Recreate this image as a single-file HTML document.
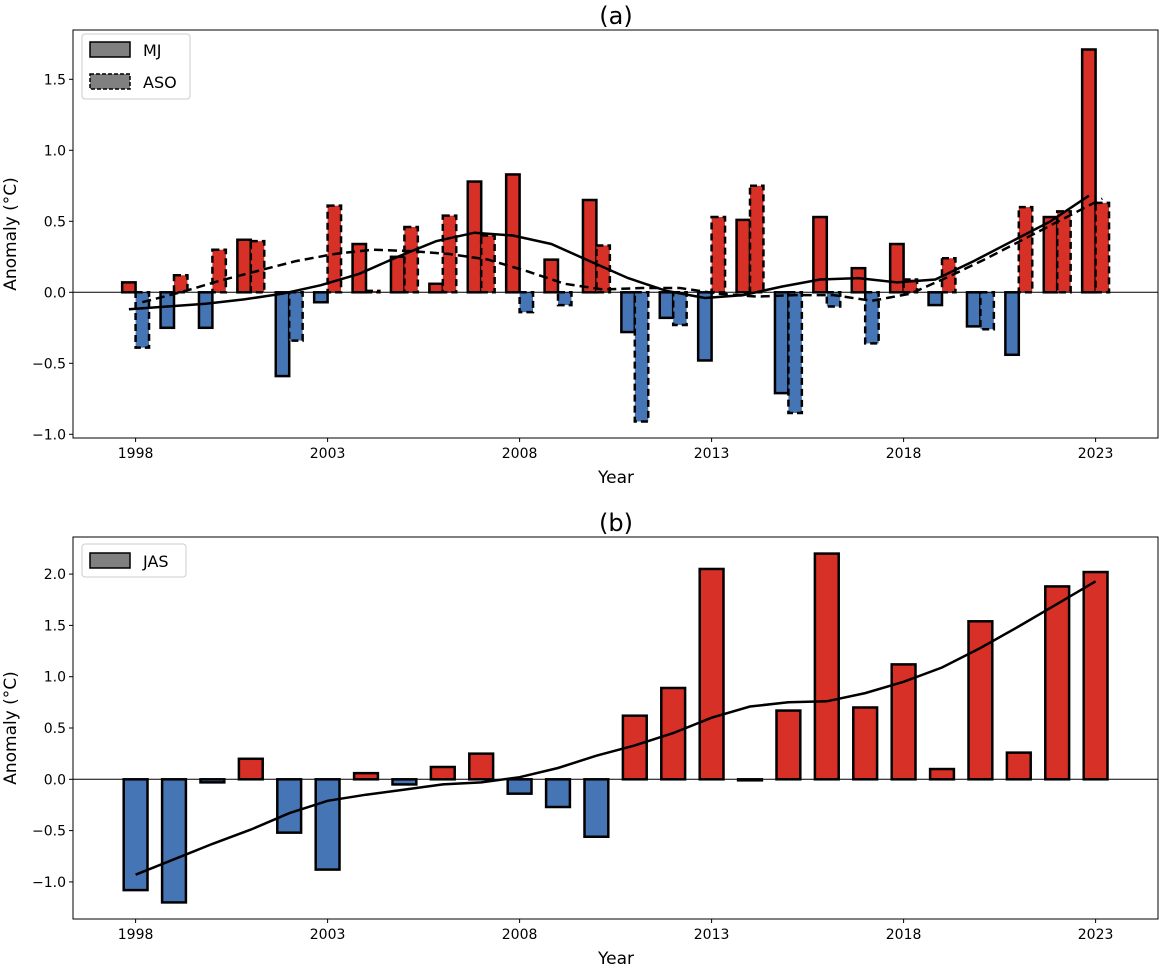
<!DOCTYPE html>
<html><head><meta charset="utf-8"><style>
body{margin:0;background:#fff;}
svg text{font-family:"DejaVu Sans","Liberation Sans",sans-serif;fill:#000;}
</style></head><body>
<svg id="c" width="1160" height="965" viewBox="0 0 1160 965" xmlns="http://www.w3.org/2000/svg"></svg>
<script>
const years=[1998,1999,2000,2001,2002,2003,2004,2005,2006,2007,2008,2009,2010,2011,2012,2013,2014,2015,2016,2017,2018,2019,2020,2021,2022,2023];
const mjValues=[0.07,-0.25,-0.25,0.37,-0.59,-0.07,0.34,0.25,0.06,0.78,0.83,0.23,0.65,-0.28,-0.18,-0.48,0.51,-0.71,0.53,0.17,0.34,-0.09,-0.24,-0.44,0.53,1.71];
const asoValues=[-0.39,0.12,0.30,0.36,-0.34,0.61,0.01,0.46,0.54,0.40,-0.14,-0.09,0.33,-0.91,-0.23,0.53,0.75,-0.85,-0.10,-0.36,0.09,0.24,-0.26,0.60,0.57,0.63];
const mjTrend=[-0.12,-0.10,-0.08,-0.05,-0.01,0.05,0.13,0.25,0.36,0.42,0.40,0.34,0.22,0.10,0.01,-0.04,-0.02,0.04,0.09,0.10,0.07,0.09,0.22,0.36,0.50,0.68];
const asoTrend=[-0.07,0.0,0.08,0.15,0.22,0.27,0.30,0.29,0.27,0.23,0.15,0.06,0.02,0.03,0.03,-0.01,-0.03,-0.02,-0.02,-0.06,-0.01,0.11,0.24,0.38,0.52,0.66];
const jasValues=[-1.08,-1.20,-0.03,0.20,-0.52,-0.88,0.06,-0.05,0.12,0.25,-0.14,-0.27,-0.56,0.62,0.89,2.05,-0.01,0.67,2.20,0.70,1.12,0.10,1.54,0.26,1.88,2.02];
const jasTrend=[-0.93,-0.78,-0.63,-0.49,-0.33,-0.21,-0.15,-0.10,-0.05,-0.03,0.02,0.11,0.23,0.33,0.45,0.60,0.71,0.75,0.76,0.84,0.95,1.09,1.28,1.49,1.71,1.93];
const xTicks=[1998,2003,2008,2013,2018,2023];
const yTicksA=[-1.0,-0.5,0.0,0.5,1.0,1.5];
const yTicksB=[-1.0,-0.5,0.0,0.5,1.0,1.5,2.0];

const svg=document.getElementById('c');
const NS='http://www.w3.org/2000/svg';
function el(t,a,p){const e=document.createElementNS(NS,t);for(const k in a)e.setAttribute(k,a[k]);(p||svg).appendChild(e);return e;}
const RED='#d73027',BLUE='#4575b4';
const xScale=y=>135.6+(y-1998)*38.4;
const yA=v=>292.3-v*142;
const yB=v=>779.3-v*102.6;

function frame(top,bottom,ys,yScale,name,title){
  const g=el('g',{});
  
  
  const t=el('text',{x:616,y:top-6,'font-size':24,'text-anchor':'middle'},g);t.textContent=title;
  
  
  xTicks.forEach(yr=>{const x=xScale(yr);el('line',{x1:x,x2:x,y1:bottom,y2:bottom+4,stroke:'#000'},g);
    const l=el('text',{x:x,y:bottom+20,'font-size':14,'text-anchor':'middle'},g);l.textContent=yr;
    
    });
  ys.forEach(v=>{const y=yScale(v);el('line',{x1:69,x2:73,y1:y,y2:y,stroke:'#000'},g);
    const l=el('text',{x:66,y:y+5,'font-size':14,'text-anchor':'end'},g);l.textContent=(v<0?'\u22121.0':v.toFixed(1)).replace('\u22121.0',v<0?'\u2212'+Math.abs(v).toFixed(1):'');
    
    });
  const xl=el('text',{x:616,y:bottom+45,'font-size':17,'text-anchor':'middle'},g);xl.textContent='Year';
  
  
  const cy=(top+bottom)/2;
  const yl=el('text',{x:16,y:cy,'font-size':17,'text-anchor':'middle',transform:`rotate(-90 16 ${cy})`},g);yl.textContent='Anomaly (\u00B0C)';
  
  
  return g;
}
function bar(g,x0,x1,v,yScale,dash,name){
  const y0=yScale(0),y1=yScale(v);
  const r=el('rect',{x:x0,y:Math.min(y0,y1),width:x1-x0,height:Math.max(Math.abs(y1-y0),1),fill:v>=0?RED:BLUE,stroke:'#000','stroke-width':2.5},g);
  if(dash)r.setAttribute('stroke-dasharray','7,4');
  
  
}
function line(g,vals,off,yScale,dash,name){
  const d=vals.map((v,i)=>(i?'L':'M')+xScale(years[i]+off).toFixed(1)+','+yScale(v).toFixed(1)).join('');
  const p=el('path',{d:d,fill:'none',stroke:'#000','stroke-width':2.5},g);
  if(dash)p.setAttribute('stroke-dasharray','9,5');
  
  
}
// Panel A
const gA=frame(30,438,yTicksA,yA,'panel-a','(a)');
years.forEach((yr,i)=>{bar(gA,xScale(yr-0.35),xScale(yr),mjValues[i],yA,false,'mj-bar-'+yr);
  bar(gA,xScale(yr),xScale(yr+0.35),asoValues[i],yA,true,'aso-bar-'+yr);});
el('line',{x1:73,x2:1158,y1:yA(0),y2:yA(0),stroke:'#000','stroke-width':1},gA);
line(gA,mjTrend,-0.175,yA,false,'mj-trend-line');
line(gA,asoTrend,0.175,yA,true,'aso-trend-line');
el('rect',{x:73,y:30,width:1085,height:408,fill:'none',stroke:'#000','stroke-width':1},gA);
const lgA=el('g',{},gA);


el('rect',{x:82,y:34,width:108,height:65,rx:3,fill:'#fff',stroke:'#ccc'},lgA);
el('rect',{x:90,y:42,width:40,height:15,fill:'#808080',stroke:'#000','stroke-width':1.5},lgA);
el('rect',{x:90,y:74,width:40,height:15,fill:'#808080',stroke:'#000','stroke-width':1.5,'stroke-dasharray':'4,2'},lgA);
let t=el('text',{x:143,y:56,'font-size':16},lgA);t.textContent='MJ';

t=el('text',{x:143,y:88,'font-size':16},lgA);t.textContent='ASO';

// Panel B
const gB=frame(537,919,yTicksB,yB,'panel-b','(b)');
years.forEach((yr,i)=>bar(gB,xScale(yr-0.31),xScale(yr+0.31),jasValues[i],yB,false,'jas-bar-'+yr));
el('line',{x1:73,x2:1158,y1:yB(0),y2:yB(0),stroke:'#000','stroke-width':1},gB);
line(gB,jasTrend,0,yB,false,'jas-trend-line');
el('rect',{x:73,y:537,width:1085,height:382,fill:'none',stroke:'#000','stroke-width':1},gB);
const lgB=el('g',{},gB);


el('rect',{x:82,y:544,width:104,height:33,rx:3,fill:'#fff',stroke:'#ccc'},lgB);
el('rect',{x:90,y:553,width:40,height:15,fill:'#808080',stroke:'#000','stroke-width':1.5},lgB);
t=el('text',{x:143,y:567,'font-size':16},lgB);t.textContent='JAS';

</script>
</body></html>
